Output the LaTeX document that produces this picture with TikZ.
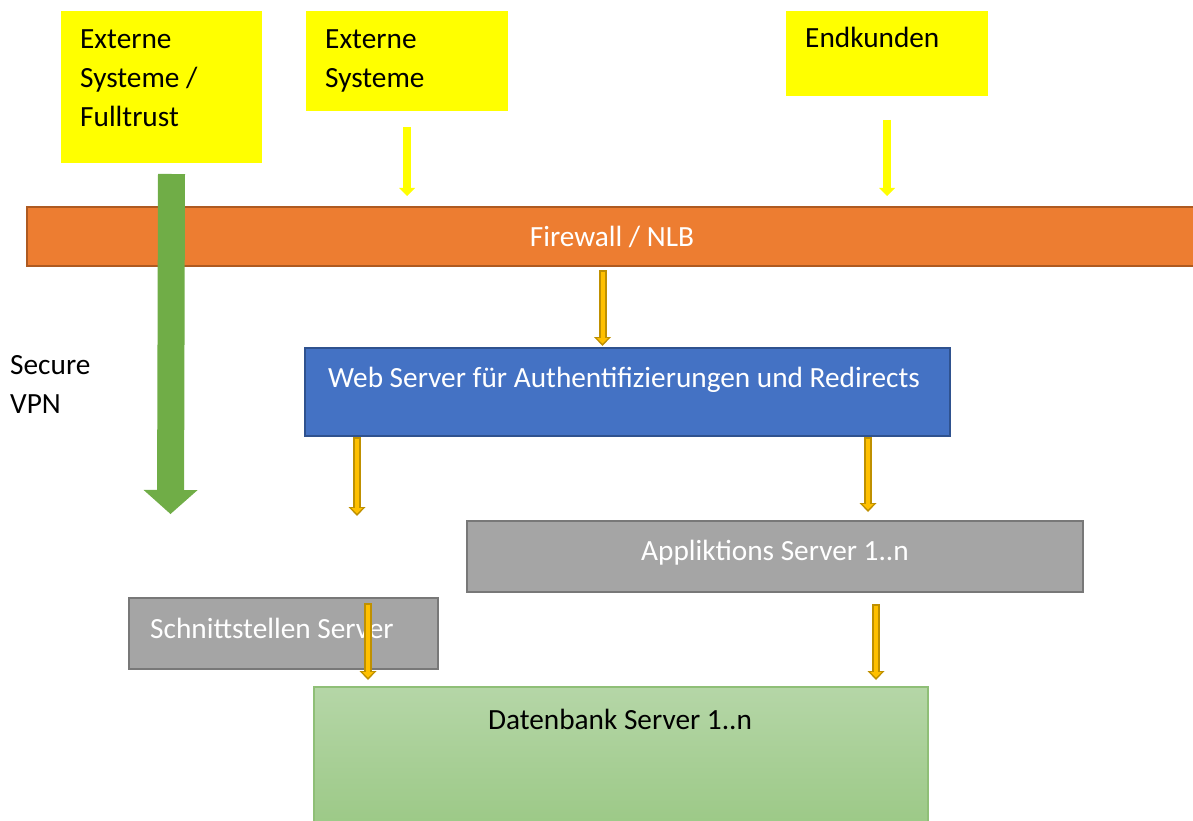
\documentclass[tikz,border=0pt]{standalone}
\usepackage{fontspec}
\setmainfont{Carlito}
\usetikzlibrary{arrows.meta, calc}
\definecolor{extyellow}{HTML}{FFFF00}
\definecolor{fworange}{HTML}{ED7D31}
\definecolor{fwline}{HTML}{AE5A21}
\definecolor{webblue}{HTML}{4472C4}
\definecolor{webline}{HTML}{2F528F}
\definecolor{appgrey}{HTML}{A5A5A5}
\definecolor{appline}{HTML}{787878}
\definecolor{vpngreen}{HTML}{70AD47}
\definecolor{gold}{HTML}{FFC000}
\definecolor{goldline}{HTML}{BF9000}
\definecolor{dbtop}{HTML}{B5D6A7}
\definecolor{dbbottom}{HTML}{9AC884}
\definecolor{dbline}{HTML}{8FBF77}
\tikzset{
  box/.style={rectangle, inner sep=0pt, anchor=north west, line width=2pt},
  caller/.style={box, fill=extyellow},
  fwbar/.style={box, fill=fworange, draw=fwline},
  websrv/.style={box, fill=webblue, draw=webline},
  appsrv/.style={box, fill=appgrey, draw=appline},
  dbsrv/.style={box, draw=dbline, line width=1.5pt, top color=dbtop, bottom color=dbbottom},
  boxtext/.style={font=\fontsize{29.3pt}{39pt}\selectfont, inner sep=0pt, align=left},
  whitetext/.style={boxtext, text=white},
  feed/.style={draw=extyellow, line width=8pt,
    -{Triangle[length=8pt, width=16pt, line width=0pt]}},
  hop/.style={draw=goldline, line width=8pt,
    -{Triangle[length=9pt, width=17pt, line width=0pt]},
    postaction={draw=gold, line width=4pt, shorten >=2.4pt, shorten <=1.5pt,
      -{Triangle[length=5.5pt, width=11pt, line width=0pt]}}},
  tunnel/.style={draw=vpngreen, line width=27pt,
    -{Triangle[length=24pt, width=54pt, line width=0pt]}},
}

\begin{document}
\begin{tikzpicture}[x=1pt, y=-1pt]
\useasboundingbox (0,0) rectangle (1193,821);
\clip (0,0) rectangle (1193,821);

% -- callers
\node[caller, minimum width=201pt, minimum height=152pt] (fulltrust) at (60,10) {};
\node[boxtext, anchor=north west] (fulltrust text) at (80,29.5) {Externe\\Systeme /\\Fulltrust};
\node[caller, minimum width=202pt, minimum height=100pt] (extsys) at (305,10) {};
\node[boxtext, anchor=north west] (extsys text) at (325,29.5) {Externe\\Systeme};
\node[caller, minimum width=202pt, minimum height=85pt] (customers) at (785,10) {};
\node[boxtext, anchor=base west] (customers text) at (805,48) {Endkunden};

% -- server layers
\node[fwbar, minimum width=1180pt, minimum height=59pt] (firewall) at (26,206) {};
\node[whitetext, anchor=base] (firewall text) at (612,246) {Firewall / NLB};
\node[websrv, minimum width=645pt, minimum height=88pt] (web) at (304,347) {};
\node[whitetext, anchor=base] (web text) at (624,387)
  {Web Server für Authentifizierungen und Redirects};
\node[appsrv, minimum width=616pt, minimum height=71pt] (app) at (466,520) {};
\node[whitetext, anchor=base] (app text) at (775,560) {Appliktions Server 1..n};
\node[appsrv, minimum width=309pt, minimum height=71pt] (schnitt) at (128,597) {};
\node[whitetext, anchor=base west] (schnitt text) at (150,638) {Schnittstellen Server};
\node[dbsrv, minimum width=614pt, minimum height=150pt] (db) at (313,686) {};
\node[boxtext, anchor=base] (db text) at (620,729) {Datenbank Server 1..n};

% -- requests through the firewall
\draw[feed, shorten <=15pt, shorten >=10pt] (extsys.south) -- (extsys.south |- firewall.north);
\draw[feed, shorten <=23pt, shorten >=10pt] (customers.south) -- (customers.south |- firewall.north);

% -- secure vpn
\node[boxtext, anchor=north west] (vpn text) at (10,355.5) {Secure\\VPN};
\coordinate (vpn end) at (170.5,514);
\draw[tunnel] ($(fulltrust.south)+(10,10)$) -- (vpn end);

% -- internal hops
\coordinate (web in) at ($(web.north)+(-25,-1)$);
\draw[hop] ($(web in |- firewall.south)+(0,3)$) -- (web in);
\coordinate (web left) at ($(web.south west)+(53,0)$);
\coordinate (left end) at ($(web left)+(0,79)$);
\draw[hop] (web left) -- (left end);
\coordinate (app in) at ($(app.north west)+(402,-8)$);
\draw[hop] (app in |- web.south) -- (app in);
\coordinate (db left in) at ($(db.north west)+(55,-6)$);
\draw[hop] ($(db left in |- schnitt.north)+(0,6)$) -- (db left in);
\coordinate (db right in) at ($(db.north west)+(563,-6)$);
\draw[hop] ($(db right in |- app.south)+(0,11)$) -- (db right in);

\end{tikzpicture}
\end{document}
